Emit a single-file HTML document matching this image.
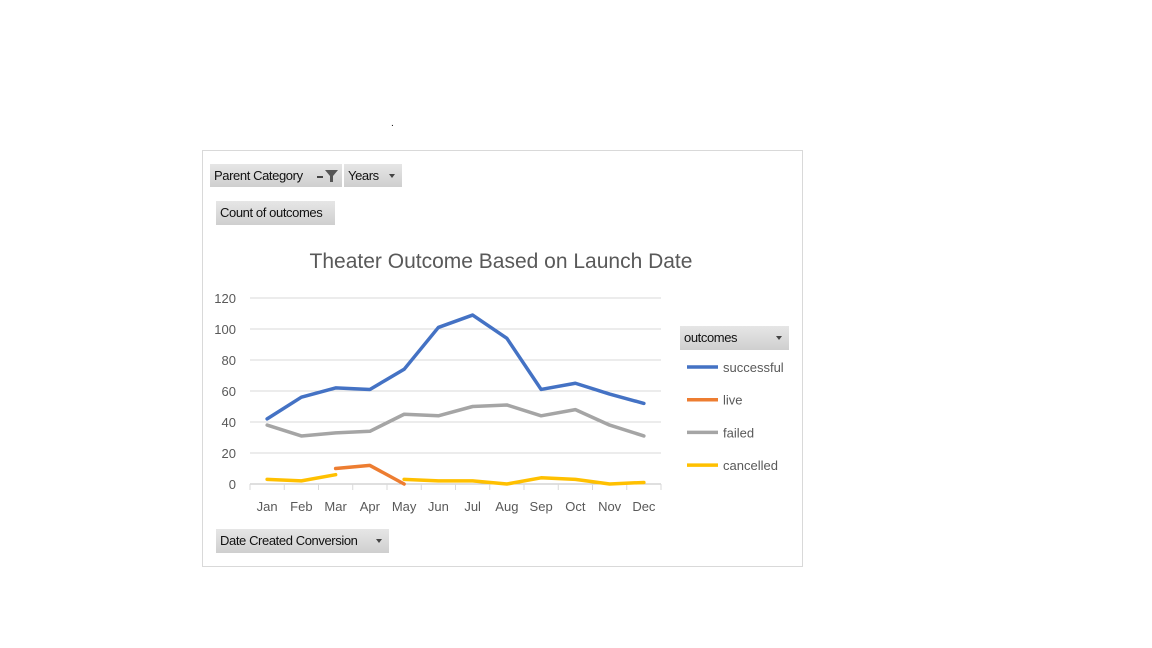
<!DOCTYPE html>
<html><head><meta charset="utf-8"><style>
body{margin:0;width:1152px;height:648px;background:#fff;position:relative;overflow:hidden;font-family:"Liberation Sans",sans-serif}
.btn{position:absolute;background:linear-gradient(#e6e6e6,#cfcfcf);font-size:13px;color:#111;line-height:23px;padding-left:4px;box-sizing:border-box;letter-spacing:-0.4px}
.arr{position:absolute;right:7px;top:10px;width:0;height:0;border-left:3px solid transparent;border-right:3px solid transparent;border-top:4px solid #444}
</style></head><body>
<div style="position:absolute;left:391px;top:118px;font-size:10px">.</div>
<div style="position:absolute;left:202px;top:150px;width:601px;height:417px;border:1px solid #d9d9d9;box-sizing:border-box"></div>
<div class="btn" style="left:210px;top:164px;width:132px;height:23px">Parent Category
<svg width="22" height="14" style="position:absolute;right:3px;top:5px"><rect x="0" y="7" width="6" height="2" fill="#444"/><path d="M8 1 H21 L16 7 V13 H13 V7 Z" fill="#555"/></svg></div>
<div class="btn" style="left:344px;top:164px;width:58px;height:23px">Years<span class="arr"></span></div>
<div class="btn" style="left:216px;top:201px;width:119px;height:24px">Count of outcomes</div>
<div class="btn" style="left:216px;top:529px;width:173px;height:24px">Date Created Conversion<span class="arr"></span></div>
<div class="btn" style="left:680px;top:326px;width:109px;height:24px">outcomes<span class="arr"></span></div>
<svg id="c" width="1152" height="648" style="position:absolute;left:0;top:0">
<text x="501" y="268" text-anchor="middle" font-size="21" fill="#595959" font-family="Liberation Sans, sans-serif">Theater Outcome Based on Launch Date</text>
</svg>
<script>
const months=["Jan","Feb","Mar","Apr","May","Jun","Jul","Aug","Sep","Oct","Nov","Dec"];
const yTicks=[0,20,40,60,80,100,120];
const successful=[42,56,62,61,74,101,109,94,61,65,58,52];
const live=[null,null,10,12,0,null,null,null,null,null,null,null];
const failed=[38,31,33,34,45,44,50,51,44,48,38,31];
const cancelled=[3,2,6,null,3,2,2,0,4,3,0,1];
const seriesNames=["successful","live","failed","cancelled"];
const svg=document.getElementById('c');const NS="http://www.w3.org/2000/svg";
const L=250,R=661,Y0=484,Y120=298;
const bw=(R-L)/months.length;
const x=i=>L+bw*(i+0.5);
const y=v=>Y0-(v/120)*(Y0-Y120);
function mk(t,a){const e=document.createElementNS(NS,t);for(const k in a)e.setAttribute(k,a[k]);svg.appendChild(e);return e;}
yTicks.forEach(t=>{
 const g=mk('line',{x1:L,x2:R,y1:y(t),y2:y(t),stroke:t===0?'#bfbfbf':'#d9d9d9','stroke-width':1});
 
 
 const tx=mk('text',{x:236,y:y(t)+5,'text-anchor':'end','font-size':13,fill:'#595959'});tx.textContent=t;
 
 
});
for(let i=0;i<=months.length;i++){const tk=mk('line',{x1:L+bw*i,x2:L+bw*i,y1:Y0,y2:Y0+6,stroke:'#d9d9d9'});
 
 }
months.forEach((m,i)=>{const t=mk('text',{x:x(i),y:511,'text-anchor':'middle','font-size':13,fill:'#595959'});t.textContent=m;
 
 });
const data=[successful,live,failed,cancelled];
const colors=["#4472c4","#ed7d31","#a5a5a5","#ffc000"];
data.forEach((s,k)=>{
 let d="",pen=false;
 s.forEach((v,i)=>{if(v==null){pen=false;return;}d+=(pen?"L":"M")+x(i)+","+y(v)+" ";pen=true;});
 const p=mk('path',{d:d,fill:'none',stroke:colors[k],'stroke-width':3.5,'stroke-linejoin':'round','stroke-linecap':'round'});
 
 
 const ly=367+k*32.7;
 const ll=mk('line',{x1:687,x2:718,y1:ly,y2:ly,stroke:colors[k],'stroke-width':3.5});
 
 
 const lt=mk('text',{x:723,y:ly+5,'font-size':13,fill:'#595959'});lt.textContent=seriesNames[k];
 
 
});
</script>
</body></html>
